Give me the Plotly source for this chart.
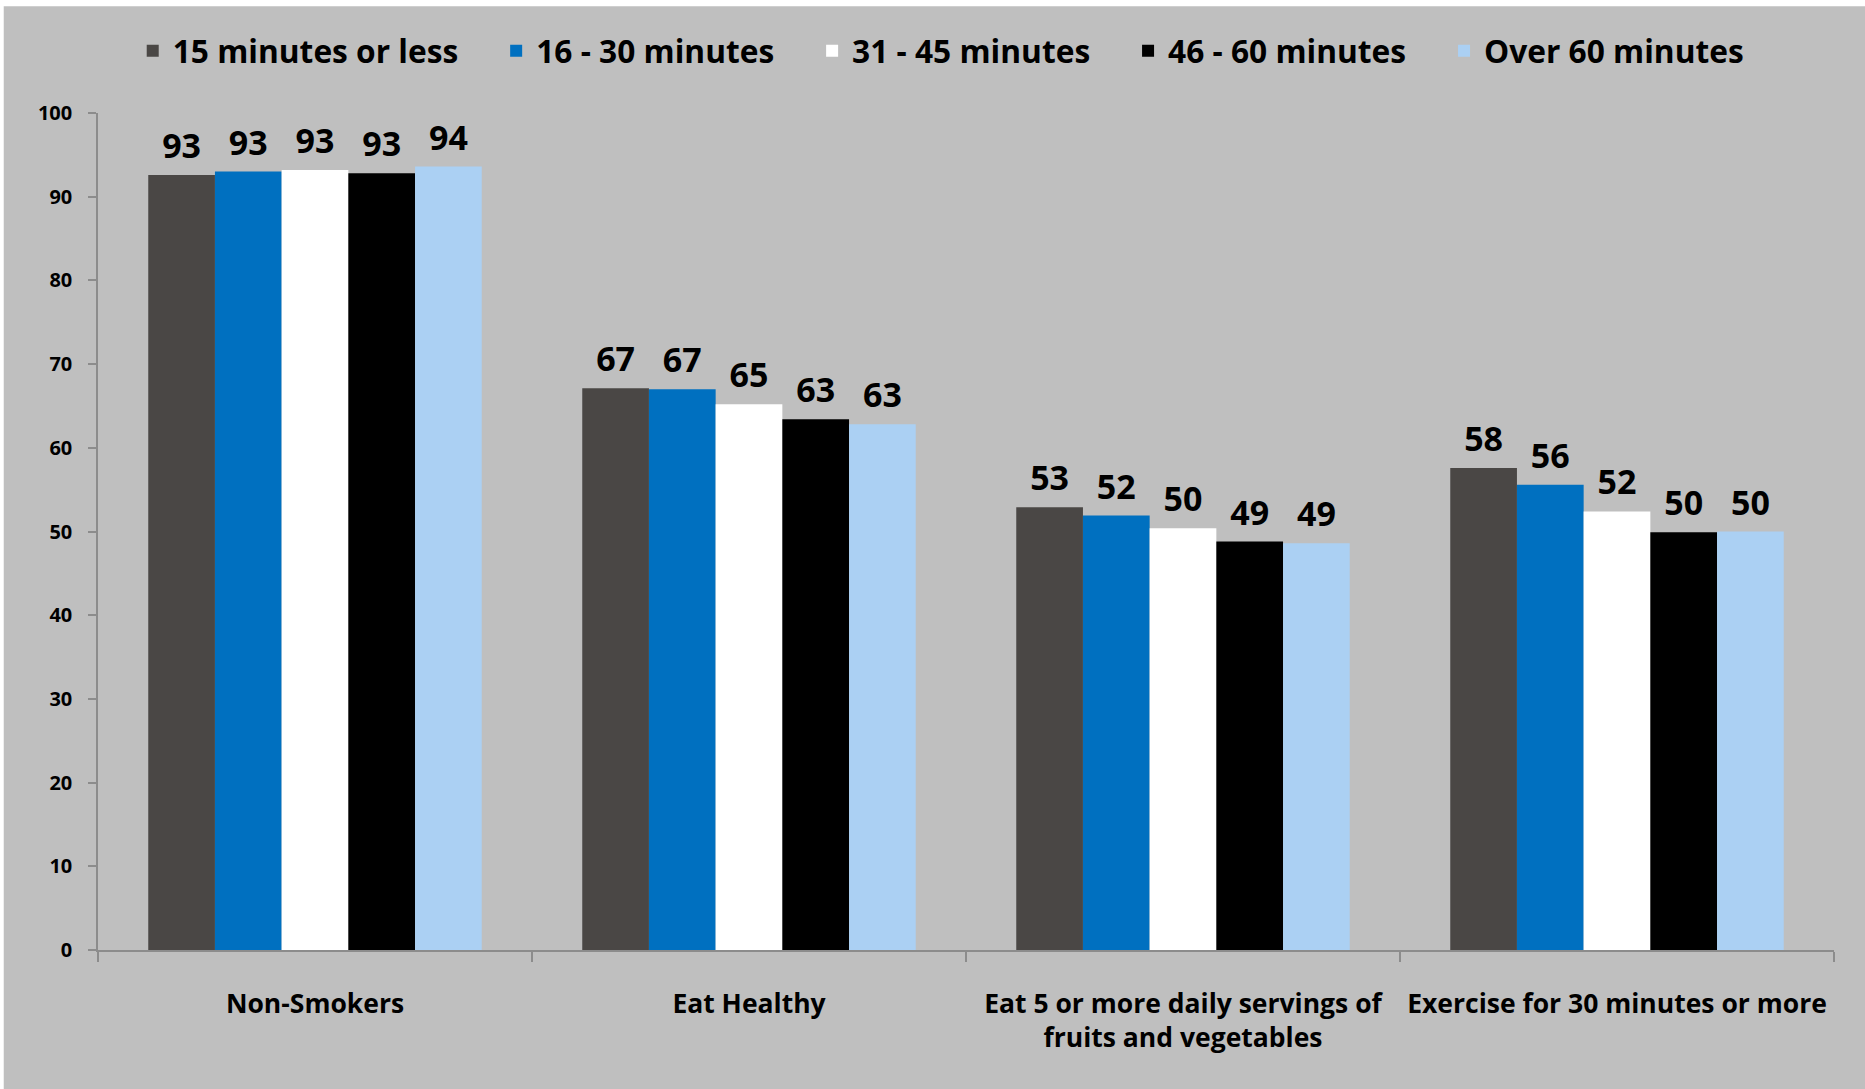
import plotly.graph_objects as go

categories = [
    "Non-Smokers",
    "Eat Healthy",
    "Eat 5 or more daily servings of<br>fruits and vegetables",
    "Exercise for 30 minutes or more",
]
series_names = ["15 minutes or less", "16 - 30 minutes", "31 - 45 minutes",
                "46 - 60 minutes", "Over 60 minutes"]
v_15_or_less = [92.6, 67.1, 52.9, 57.6]
v_16_to_30 = [93.0, 67.0, 51.9, 55.6]
v_31_to_45 = [93.2, 65.2, 50.4, 52.4]
v_46_to_60 = [92.8, 63.4, 48.8, 49.9]
v_over_60 = [93.6, 62.8, 48.6, 50.0]
series_values = [v_15_or_less, v_16_to_30, v_31_to_45, v_46_to_60, v_over_60]
colors = ["#4A4745", "#0070C0", "#FFFFFF", "#000000", "#ABD0F3"]
y_tick_values = list(range(0, 101, 10))

FONT = "Open Sans"
GAP = 0.2316
PAD = "\u00a0" * 4

fig = go.Figure()
for i, (name, vals, col) in enumerate(zip(series_names, series_values, colors)):
    fig.add_trace(go.Bar(
        x=categories, y=vals,
        name=name + (PAD if i < len(series_names) - 1 else ""),
        marker=dict(color=col, line=dict(width=0)),
        offsetgroup=name,
    ))
for name, vals in zip(series_names, series_values):
    fig.add_trace(go.Scatter(
        x=categories, y=vals, mode="markers+text",
        text=[f"{v:.0f}" for v in vals], textposition="top center",
        textfont=dict(family=FONT, size=34, color="#000000", weight="bold"),
        marker=dict(size=12, color="rgba(0,0,0,0)"),
        offsetgroup=name, showlegend=False, hoverinfo="skip",
    ))

fig.update_layout(
    width=1865, height=1089,
    margin=dict(l=98, r=31, t=113, b=139),
    paper_bgcolor="#FFFFFF",
    plot_bgcolor="rgba(0,0,0,0)",
    barmode="group", bargap=GAP, bargroupgap=0,
    scattermode="group", scattergap=GAP,
    font=dict(family=FONT, color="#000000", weight="bold"),
    legend=dict(
        orientation="h", x=0.02, xanchor="left", y=1.074, yanchor="middle",
        font=dict(family=FONT, size=31.7, color="#000000", weight="bold"),
        bgcolor="rgba(0,0,0,0)",
    ),
    xaxis=dict(
        showline=True, linecolor="#8C8C8C", linewidth=1.5,
        ticks="outside", tickson="boundaries", ticklen=10, tickcolor="#8C8C8C",
        tickwidth=1.5,
        tickfont=dict(family=FONT, size=26.5, color="#000000", weight="bold"),
        showgrid=False, zeroline=False, ticklabelstandoff=29,
    ),
    yaxis=dict(
        range=[0, 100], tickvals=y_tick_values,
        showline=True, linecolor="#8C8C8C", linewidth=1.5,
        ticks="outside", ticklen=8, tickcolor="#8C8C8C", tickwidth=1.5,
        tickfont=dict(family=FONT, size=20, color="#000000", weight="bold"),
        showgrid=False, zeroline=False, ticklabelstandoff=12,
    ),
    showlegend=True,
    shapes=[dict(type="rect", xref="paper", yref="paper",
                 x0=-0.0543, x1=1.02, y0=-0.17, y1=1.1274,
                 fillcolor="#BFBFBF", line=dict(width=0), layer="below")],
)

fig.write_html("out.html")
